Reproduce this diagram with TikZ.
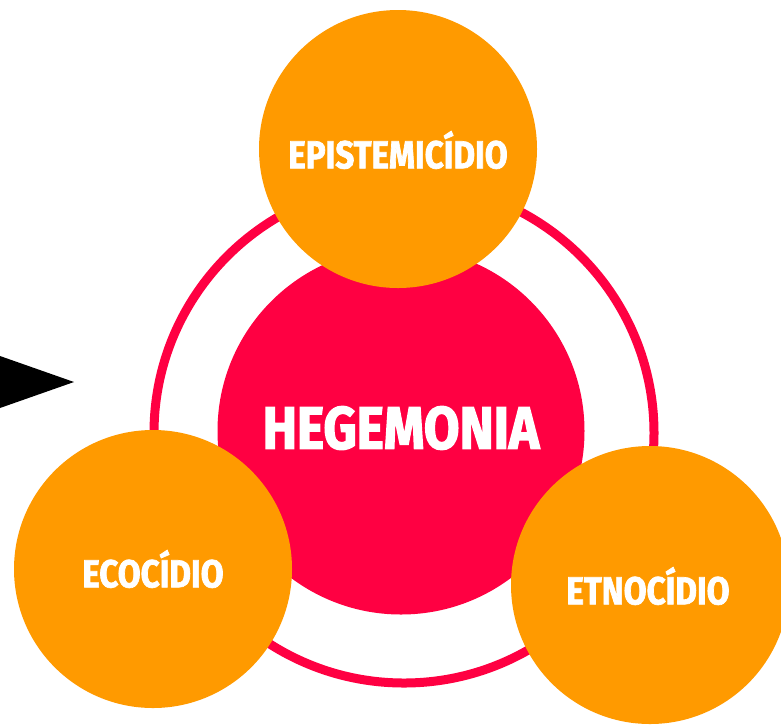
\documentclass[tikz,border=0pt]{standalone}
\usepackage{fontspec}
\newfontfamily\labfont{Fira Sans}[FakeStretch=0.85, FakeBold=1.8]
\newfontfamily\hubfont{Fira Sans}[FakeStretch=0.86, FakeBold=2.2]
\definecolor{hred}{RGB}{255,0,66}
\definecolor{horange}{RGB}{255,154,0}
\tikzset{
  orb/.style={circle, fill=horange, minimum size=278pt, inner sep=0pt},
  lab/.style={text=white, font=\labfont\bfseries\fontsize{39}{39}\selectfont},
}
\begin{document}
\begin{tikzpicture}[x=1pt,y=-1pt]
\useasboundingbox (0,0) rectangle (781,724);
\fill[white] (0,0) rectangle (781,724);
% ring
\node (ring) [circle, draw=hred, line width=9pt, minimum size=500pt, inner sep=0pt] at (404,433) {};
% central circle
\node (hub) [circle, fill=hred, minimum size=367pt, inner sep=0pt] at (401,431) {};
\node (hubtext) [text=white, font=\hubfont\bfseries\fontsize{60}{60}\selectfont] at (401,428) {HEGEMONIA};
% satellites
\node (top) [orb] at (398,149) {};
\node (left) [orb] at (153,569) {};
\node (right) [orb] at (650,585) {};
\node (toptext) [lab] at (398,150) {EPISTEMICÍDIO};
\node (lefttext) [lab] at (153,569) {ECOCÍDIO};
\node (righttext) [lab] at (648,586) {ETNOCÍDIO};
% arrow head
\coordinate (a1) at (0,356);
\coordinate (a2) at (74,382);
\coordinate (a3) at (0,408);
\fill[black] (a1) -- (a2) -- (a3) -- cycle;
\end{tikzpicture}
\end{document}
